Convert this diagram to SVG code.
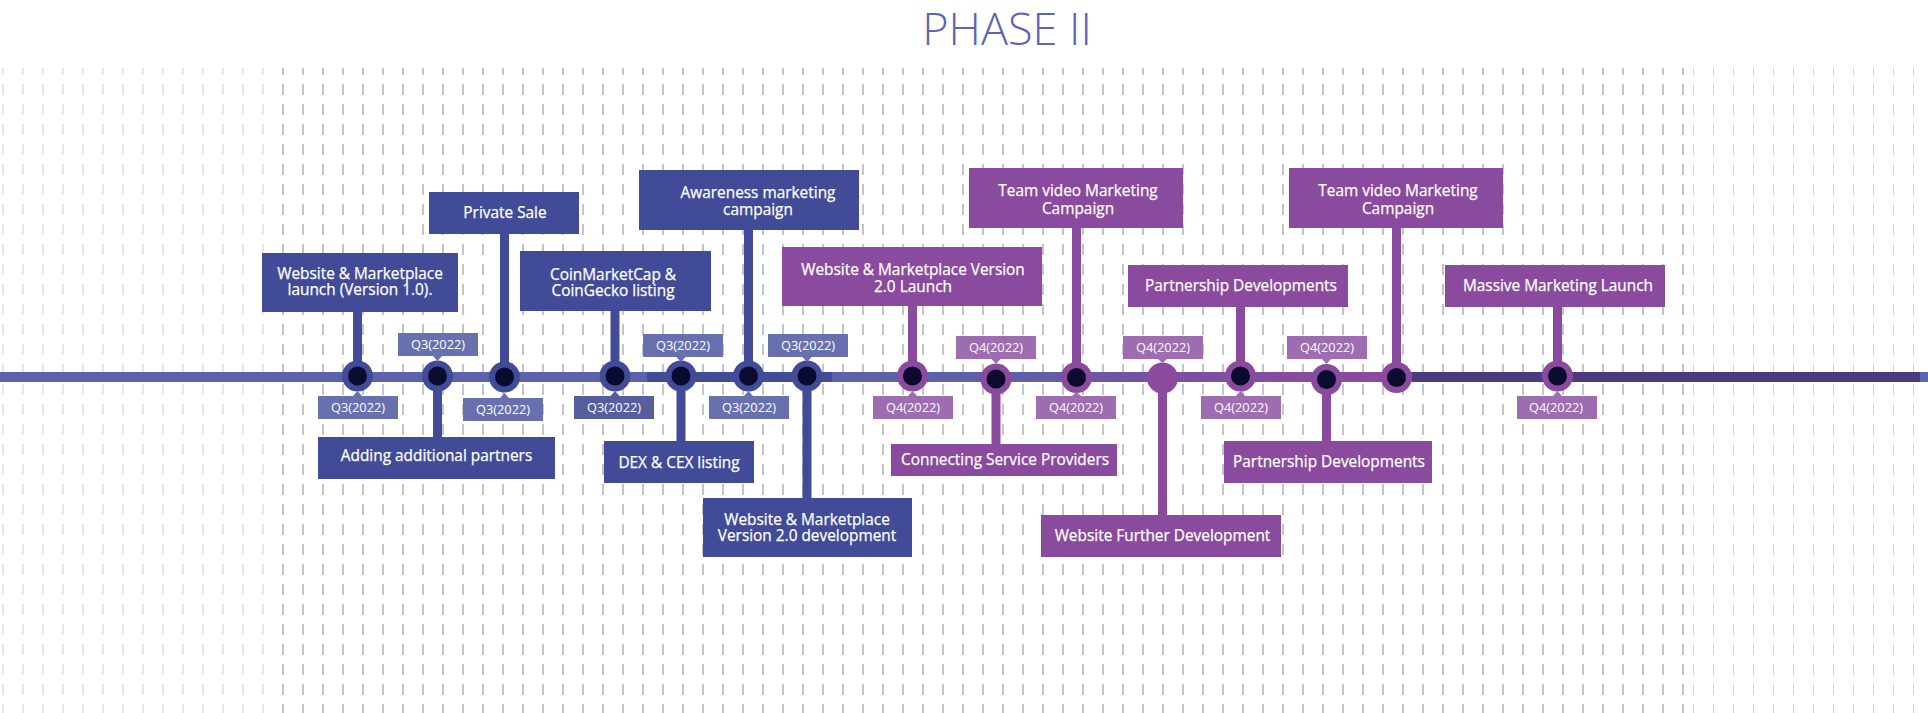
<svg xmlns="http://www.w3.org/2000/svg" width="1928" height="713" viewBox="0 0 1928 713">
<defs>
<pattern id="gl" x="22" y="84" width="20" height="20" patternUnits="userSpaceOnUse"><rect width="2" height="11" fill="#e6e6e7"/></pattern>
<pattern id="gd" x="22" y="84" width="20" height="20" patternUnits="userSpaceOnUse"><rect width="2" height="11" fill="#c3c5c9"/></pattern>
<pattern id="gr" x="1693" y="84" width="20" height="20" patternUnits="userSpaceOnUse"><rect width="1" height="11" fill="#d2d3d6"/></pattern>
<linearGradient id="lg" gradientUnits="userSpaceOnUse" x1="832" y1="0" x2="1412" y2="0">
<stop offset="0" stop-color="#5a63ab"/>
<stop offset="0.3" stop-color="#5d60aa"/>
<stop offset="0.55" stop-color="#7453a3"/>
<stop offset="0.8" stop-color="#884b9e"/>
<stop offset="1" stop-color="#8b4a9e"/>
</linearGradient>
</defs>
<style>
.b{fill:#424b98}
.p{fill:#8a4b9e}
.t{font-family:"Open Sans","Liberation Sans",sans-serif;font-size:15.4px;font-weight:400;fill:#ffffff;text-anchor:middle;stroke:#ffffff;stroke-width:0.25}
.d{font-family:"Open Sans","Liberation Sans",sans-serif;font-size:12.8px;fill:#ffffff;text-anchor:middle}
.q3{fill:#6870b0}
.q3d{fill:#575e9e}
.q4{fill:#9d6cb1}
.in{fill:#0a0b2e}
.sb{stroke:#424b98;stroke-width:9}
.sp{stroke:#8a4b9e;stroke-width:9}
</style>
<rect width="1928" height="713" fill="#ffffff"/>
<g id="grid">
<rect x="0" y="68" width="272" height="645" fill="url(#gl)"/>
<rect x="272" y="68" width="1418" height="645" fill="url(#gd)"/>
<rect x="1690" y="68" width="238" height="645" fill="url(#gr)"/>
</g>
<text x="1007" y="45" font-family="'Open Sans','Liberation Sans',sans-serif" font-size="45" font-weight="300" fill="#5c64b4" text-anchor="middle">PHASE II</text>
<g id="timeline">
<rect x="0" y="372" width="647" height="10" fill="#5a63ab"/>
<rect x="647" y="372" width="185" height="10" fill="#434c98"/>
<rect x="832" y="372" width="580" height="10" fill="url(#lg)"/>
<rect x="1412" y="372" width="508" height="10" fill="#4b3b7c"/>
<rect x="1920" y="372" width="8" height="10" fill="#5a66b0"/>
</g>
<g id="connectors">
<line class="sb" x1="357.5" y1="312" x2="357.5" y2="376"/>
<line class="sb" x1="437.5" y1="376" x2="437.5" y2="437"/>
<line class="sb" x1="504.5" y1="233" x2="504.5" y2="377"/>
<line class="sb" x1="615" y1="310" x2="615" y2="376"/>
<line class="sb" x1="681" y1="376" x2="681" y2="441"/>
<line class="sb" x1="748.5" y1="229" x2="748.5" y2="376"/>
<line class="sb" x1="807" y1="376" x2="807" y2="498"/>
<line class="sp" x1="912.5" y1="306" x2="912.5" y2="376"/>
<line class="sp" x1="996" y1="379" x2="996" y2="444"/>
<line class="sp" x1="1076.5" y1="227" x2="1076.5" y2="377.5"/>
<line class="sp" x1="1162.5" y1="378" x2="1162.5" y2="515"/>
<line class="sp" x1="1240.5" y1="306" x2="1240.5" y2="376"/>
<line class="sp" x1="1326.5" y1="379.5" x2="1326.5" y2="441"/>
<line class="sp" x1="1396.5" y1="227" x2="1396.5" y2="377.5"/>
<line class="sp" x1="1557.5" y1="306" x2="1557.5" y2="376"/>
</g>
<g id="n1">
<rect class="b" x="262" y="253" width="196" height="59"/>
<text class="t" x="360" y="278.5">Website &amp; Marketplace<tspan x="360" dy="16.5">launch (Version 1.0).</tspan></text>
<circle class="b" cx="357.5" cy="376" r="15.5"/><circle class="in" cx="357.5" cy="376" r="9.5"/>
<rect class="q3" x="318" y="396" width="80" height="23"/><polygon class="q3" points="353,396 362,396 357.5,391"/>
<text class="d" x="358" y="412">Q3(2022)</text>
</g>
<g id="n2">
<rect class="b" x="318" y="437" width="237" height="42"/>
<text class="t" x="436.5" y="461">Adding additional partners</text>
<circle class="b" cx="437.5" cy="376" r="15.5"/><circle class="in" cx="437.5" cy="376" r="9.5"/>
<rect class="q3" x="398" y="333" width="80" height="23"/><polygon class="q3" points="433,356 442,356 437.5,361"/>
<text class="d" x="438" y="349">Q3(2022)</text>
</g>
<g id="n3">
<rect class="b" x="429" y="192" width="150" height="42"/>
<text class="t" x="505" y="217.5">Private Sale</text>
<circle class="b" cx="504.5" cy="377" r="15.5"/><circle class="in" cx="504.5" cy="377" r="9.5"/>
<rect class="q3" x="463" y="398" width="80" height="23"/><polygon class="q3" points="500,398 509,398 504.5,393"/>
<text class="d" x="503" y="414">Q3(2022)</text>
</g>
<g id="n4">
<rect class="b" x="520" y="251" width="191" height="60"/>
<text class="t" x="613" y="279.5">CoinMarketCap &amp;<tspan x="613" dy="16.5">CoinGecko listing</tspan></text>
<circle class="b" cx="615" cy="376" r="15.5"/><circle class="in" cx="615" cy="376" r="9.5"/>
<rect class="q3d" x="574" y="396" width="80" height="23"/><polygon class="q3d" points="610.5,396 619.5,396 615,391"/>
<text class="d" x="614" y="412">Q3(2022)</text>
</g>
<g id="n5">
<rect class="b" x="604" y="441" width="150" height="42"/>
<text class="t" x="679" y="467.5">DEX &amp; CEX listing</text>
<circle class="b" cx="681" cy="376" r="15.5"/><circle class="in" cx="681" cy="376" r="9.5"/>
<rect class="q3" x="643" y="334" width="80" height="23"/><polygon class="q3" points="676.5,357 685.5,357 681,362"/>
<text class="d" x="683" y="350">Q3(2022)</text>
</g>
<g id="n6">
<rect class="b" x="639" y="170" width="220" height="60"/>
<text class="t" x="758" y="197.5">Awareness marketing<tspan x="758" dy="17">campaign</tspan></text>
<circle class="b" cx="748.5" cy="376" r="15.5"/><circle class="in" cx="748.5" cy="376" r="9.5"/>
<rect class="q3" x="709" y="396" width="80" height="23"/><polygon class="q3" points="744,396 753,396 748.5,391"/>
<text class="d" x="749" y="412">Q3(2022)</text>
</g>
<g id="n7">
<rect class="b" x="703" y="498" width="209" height="59"/>
<text class="t" x="807" y="524.5">Website &amp; Marketplace<tspan x="807" dy="16.5">Version 2.0 development</tspan></text>
<circle class="b" cx="807" cy="376" r="15.5"/><circle class="in" cx="807" cy="376" r="9.5"/>
<rect class="q3" x="768" y="334" width="80" height="23"/><polygon class="q3" points="802.5,357 811.5,357 807,362"/>
<text class="d" x="808" y="350">Q3(2022)</text>
</g>
<g id="n8">
<rect class="p" x="782" y="247" width="260" height="59"/>
<text class="t" x="913" y="275">Website &amp; Marketplace Version<tspan x="913" dy="17">2.0 Launch</tspan></text>
<circle class="p" cx="912.5" cy="376" r="15.5"/><circle class="in" cx="912.5" cy="376" r="9.5"/>
<rect class="q4" x="873" y="396" width="80" height="23"/><polygon class="q4" points="908,396 917,396 912.5,391"/>
<text class="d" x="913" y="412">Q4(2022)</text>
</g>
<g id="n9">
<rect class="p" x="891" y="444" width="226" height="32"/>
<text class="t" x="1005" y="464.5">Connecting Service Providers</text>
<circle class="p" cx="996" cy="379" r="15.5"/><circle class="in" cx="996" cy="379" r="9.5"/>
<rect class="q4" x="956" y="336" width="80" height="23"/><polygon class="q4" points="991.5,359 1000.5,359 996,364"/>
<text class="d" x="996" y="352">Q4(2022)</text>
</g>
<g id="n10">
<rect class="p" x="969" y="168" width="214" height="60"/>
<text class="t" x="1078" y="196">Team video Marketing<tspan x="1078" dy="17.5">Campaign</tspan></text>
<circle class="p" cx="1076.5" cy="377.5" r="15.5"/><circle class="in" cx="1076.5" cy="377.5" r="9.5"/>
<rect class="q4" x="1036" y="396" width="80" height="23"/><polygon class="q4" points="1072,396 1081,396 1076.5,392"/>
<text class="d" x="1076" y="412">Q4(2022)</text>
</g>
<g id="n11">
<rect class="p" x="1041" y="515" width="240" height="42"/>
<text class="t" x="1162.5" y="541">Website Further Development</text>
<circle class="p" cx="1162.5" cy="378" r="15.5"/>
<rect class="q4" x="1123" y="336" width="80" height="23"/><polygon class="q4" points="1158,359 1167,359 1162.5,363"/>
<text class="d" x="1163" y="352">Q4(2022)</text>
</g>
<g id="n12">
<rect class="p" x="1128" y="265" width="220" height="42"/>
<text class="t" x="1241" y="291">Partnership Developments</text>
<circle class="p" cx="1240.5" cy="376" r="15.5"/><circle class="in" cx="1240.5" cy="376" r="9.5"/>
<rect class="q4" x="1201" y="396" width="80" height="23"/><polygon class="q4" points="1236,396 1245,396 1240.5,391"/>
<text class="d" x="1241" y="412">Q4(2022)</text>
</g>
<g id="n13">
<rect class="p" x="1224" y="441" width="208" height="42"/>
<text class="t" x="1329" y="466.5">Partnership Developments</text>
<circle class="p" cx="1326.5" cy="379.5" r="15.5"/><circle class="in" cx="1326.5" cy="379.5" r="9.5"/>
<rect class="q4" x="1287" y="336" width="80" height="23"/><polygon class="q4" points="1322,359 1331,359 1326.5,364"/>
<text class="d" x="1327" y="352">Q4(2022)</text>
</g>
<g id="n14">
<rect class="p" x="1289" y="168" width="214" height="60"/>
<text class="t" x="1398" y="196">Team video Marketing<tspan x="1398" dy="17.5">Campaign</tspan></text>
<circle class="p" cx="1396.5" cy="377.5" r="15.5"/><circle class="in" cx="1396.5" cy="377.5" r="9.5"/>
</g>
<g id="n15">
<rect class="p" x="1445" y="265" width="220" height="42"/>
<text class="t" x="1558" y="291">Massive Marketing Launch</text>
<circle class="p" cx="1557.5" cy="376" r="15.5"/><circle class="in" cx="1557.5" cy="376" r="9.5"/>
<rect class="q4" x="1517" y="396" width="80" height="23"/><polygon class="q4" points="1553,396 1562,396 1557.5,391"/>
<text class="d" x="1556" y="412">Q4(2022)</text>
</g>
</svg>
